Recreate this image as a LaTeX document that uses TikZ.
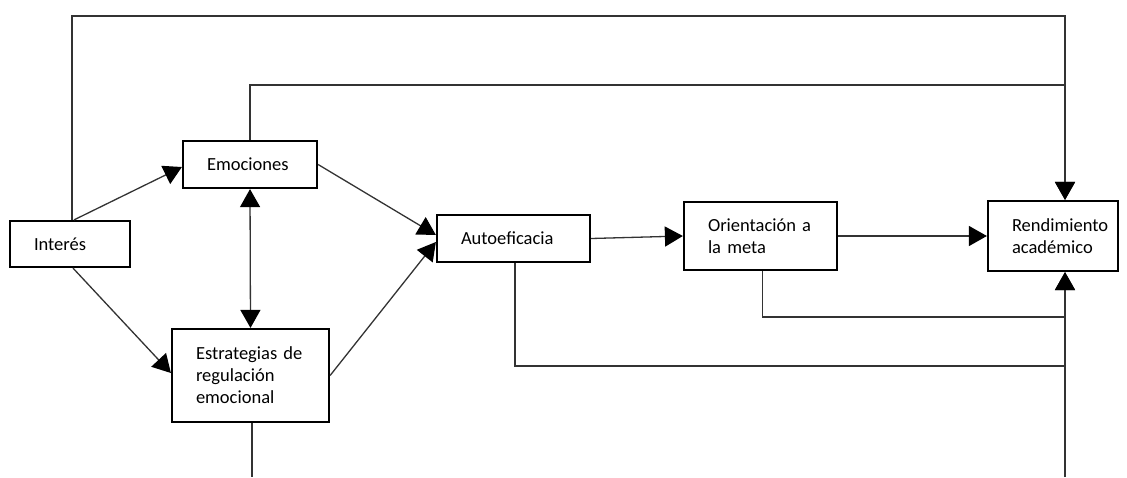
\documentclass[tikz,border=0pt]{standalone}
\usepackage{fontspec}
\setmainfont{Carlito}
\usetikzlibrary{arrows.meta,calc}
\begin{document}
\begin{tikzpicture}[x=1pt,y=-1pt,
  box/.style={draw=black,line width=2.2pt,fill=white,inner xsep=24pt,inner ysep=0pt,
    align=left,font=\fontsize{18.5}{22}\selectfont,anchor=center},
  link/.style={draw=black!80,line width=1.3pt},
  tip/.tip={Triangle[length=18pt,width=20pt,color=black,fill=black]},
  arr/.style={link,-tip},
  darr/.style={link,tip-tip}]
\useasboundingbox (0,0) rectangle (1127,477);

% boxes
\node[box,minimum width=120pt,minimum height=46pt,text width=72pt] (int) at (70,244) {Interés};
\node[box,minimum width=134pt,minimum height=47pt,text width=86pt] (emo) at (250,164.5) {Emociones};
\node[box,minimum width=157pt,minimum height=93pt,text width=109pt] (est) at (250.5,375.5) {Estrategias de\\regulación\\emocional};
\node[box,minimum width=153pt,minimum height=47pt,text width=105pt] (auto) at (513.5,238.5) {Autoeficacia};
\node[box,minimum width=153pt,minimum height=68pt,text width=105pt] (ori) at (760.5,236) {Orientación a\\la meta};
\node[box,minimum width=130pt,minimum height=70pt,text width=82pt] (ren) at (1053,236) {Rendimiento\\académico};

% routing levels
\coordinate (topA) at (0,16);
\coordinate (midA) at (0,85);
\coordinate (lowA) at (0,317);
\coordinate (lowB) at (0,366);
\coordinate (bot) at (0,477);
\coordinate (rt) at ([xshift=12pt]ren.north);
\coordinate (rb) at ([xshift=12pt]ren.south);

% direct paths
\draw[arr] ([xshift=4pt]int.north) -- ([yshift=-2.5pt]emo.west);
\draw[arr] ([xshift=3pt]int.south) -- ([yshift=2.5pt]est.west);
\draw[darr] (emo.south) -- (est.north);
\draw[arr] (emo.east) -- ([yshift=3.5pt]auto.west);
\draw[arr] (est.east) -- ([yshift=-3.5pt]auto.west);
\draw[arr] (auto.east) -- (ori.west);
\draw[arr] (ori.east) -- (ren.west);

% long paths to Rendimiento
\draw[arr] ([xshift=2pt]int.north) -- ([xshift=2pt]int.north |- topA) -| (rt);
\draw[arr] (emo.north) -- (emo.north |- midA) -| (rt);
\draw[arr] ([xshift=2pt]ori.south) -- ([xshift=2pt]ori.south |- lowA) -| (rb);
\draw[link] ([xshift=1.5pt]auto.south) -- ([xshift=1.5pt]auto.south |- lowB) -- (lowB -| rb);
\draw[arr] (bot -| rb) -- (rb);
\draw[link] ([xshift=1.5pt]est.south) -- ([xshift=1.5pt]est.south |- bot);
\end{tikzpicture}
\end{document}
